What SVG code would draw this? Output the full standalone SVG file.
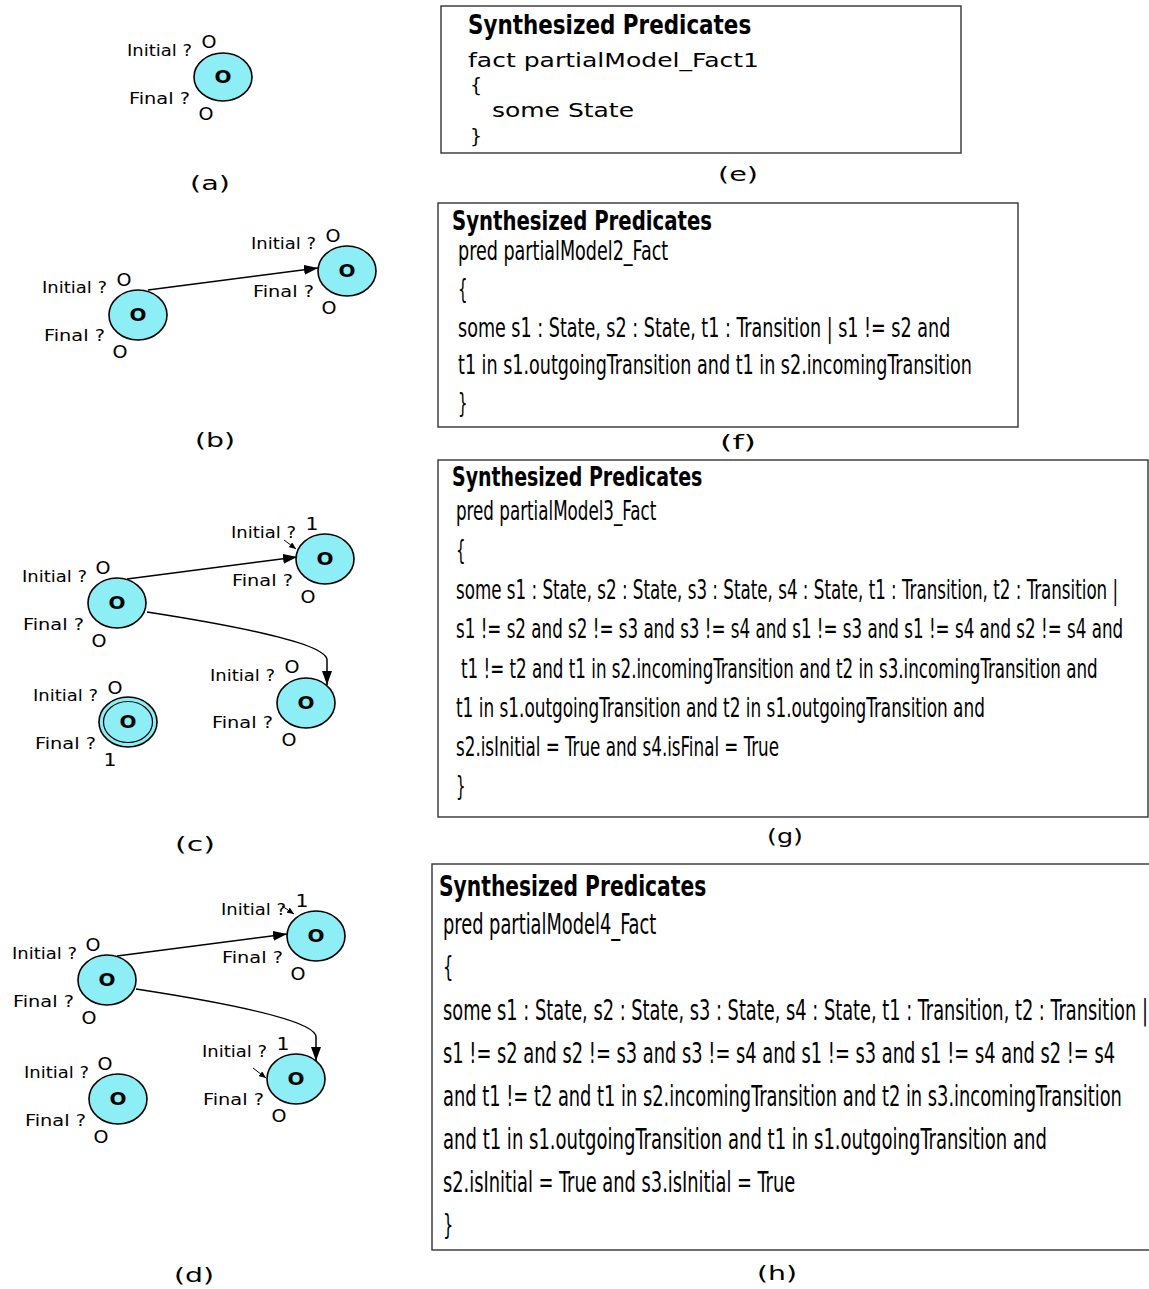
<svg xmlns="http://www.w3.org/2000/svg" width="1149" height="1289" viewBox="0 0 1149 1289">
<style>
.st{fill:#8eeef5;stroke:#000;stroke-width:1.6}
.lb{font-family:"DejaVu Sans",sans-serif;font-size:16px;fill:#000}
.o{font-family:"DejaVu Sans",sans-serif;font-size:17px;fill:#000;text-anchor:middle}
.in{font-family:"DejaVu Sans",sans-serif;font-size:17px;font-weight:bold;fill:#000;text-anchor:middle}
.cap{font-family:"DejaVu Sans",sans-serif;font-size:20px;fill:#000;text-anchor:middle}
.box{fill:#fff;stroke:#333;stroke-width:1.4}
.ttl{font-family:"DejaVu Sans Condensed","DejaVu Sans",sans-serif;font-weight:bold;fill:#000}
.code{font-family:"DejaVu Sans Condensed","DejaVu Sans",sans-serif;fill:#000}
.e{font-family:"DejaVu Sans",sans-serif;font-size:19px;fill:#000}
.ed{fill:none;stroke:#000;stroke-width:1.5}
.sm{fill:none;stroke:#000;stroke-width:1}
</style>
<defs>
<marker id="ah" markerWidth="14" markerHeight="10" refX="14" refY="5" orient="auto" markerUnits="userSpaceOnUse"><path d="M0,0 L14,5 L0,10 Z" fill="#000"/></marker>
<marker id="as" markerWidth="7" markerHeight="6" refX="7" refY="3" orient="auto" markerUnits="userSpaceOnUse"><path d="M0,0 L7,3 L0,6 Z" fill="#000"/></marker>
</defs>
<rect width="1149" height="1289" fill="#fff"/>

<g id="connectors">
<line class="ed" x1="148" y1="290" x2="318" y2="268" marker-end="url(#ah)"/>
<line class="ed" x1="127" y1="579" x2="297" y2="557" marker-end="url(#ah)"/>
<path class="ed" d="M147,612 C250,628 327,645 327,660 L327,685" marker-end="url(#ah)"/>
<line class="sm" x1="284" y1="540" x2="296" y2="549" marker-end="url(#as)"/>
<line class="ed" x1="117" y1="956" x2="287" y2="934" marker-end="url(#ah)"/>
<path class="ed" d="M136,989 C240,1005 316,1022 316,1037 L316,1061" marker-end="url(#ah)"/>
<line class="sm" x1="282" y1="906" x2="294" y2="914" marker-end="url(#as)"/>
<line class="sm" x1="253" y1="1068" x2="266" y2="1078" marker-end="url(#as)"/>
</g>

<!-- (a) -->
<g id="a-state">
<ellipse class="st" cx="223" cy="77" rx="29" ry="24"/>
<text class="in" x="223" y="83" textLength="17" lengthAdjust="spacingAndGlyphs">O</text>
<text class="lb" x="127" y="56" textLength="65" lengthAdjust="spacingAndGlyphs">Initial ?</text>
<text class="o" x="209" y="48" textLength="15" lengthAdjust="spacingAndGlyphs">O</text>
<text class="lb" x="129" y="104" textLength="61" lengthAdjust="spacingAndGlyphs">Final ?</text>
<text class="o" x="206" y="120" textLength="15" lengthAdjust="spacingAndGlyphs">O</text>
</g>
<text class="cap" x="210" y="190" textLength="40" lengthAdjust="spacingAndGlyphs">(a)</text>

<!-- (b) -->
<g id="b-s1">
<ellipse class="st" cx="138" cy="315" rx="29" ry="25"/>
<text class="in" x="138" y="321" textLength="17" lengthAdjust="spacingAndGlyphs">O</text>
<text class="lb" x="42" y="293" textLength="65" lengthAdjust="spacingAndGlyphs">Initial ?</text>
<text class="o" x="124" y="286" textLength="15" lengthAdjust="spacingAndGlyphs">O</text>
<text class="lb" x="44" y="341" textLength="61" lengthAdjust="spacingAndGlyphs">Final ?</text>
<text class="o" x="120" y="358" textLength="15" lengthAdjust="spacingAndGlyphs">O</text>
</g>
<g id="b-s2">
<ellipse class="st" cx="347" cy="271" rx="29" ry="25"/>
<text class="in" x="347" y="277" textLength="17" lengthAdjust="spacingAndGlyphs">O</text>
<text class="lb" x="251" y="249" textLength="65" lengthAdjust="spacingAndGlyphs">Initial ?</text>
<text class="o" x="333" y="242" textLength="15" lengthAdjust="spacingAndGlyphs">O</text>
<text class="lb" x="253" y="297" textLength="61" lengthAdjust="spacingAndGlyphs">Final ?</text>
<text class="o" x="329" y="314" textLength="15" lengthAdjust="spacingAndGlyphs">O</text>
</g>
<text class="cap" x="215" y="447" textLength="40" lengthAdjust="spacingAndGlyphs">(b)</text>

<!-- (c) -->
<g id="c-s1">
<ellipse class="st" cx="117" cy="603" rx="29" ry="25"/>
<text class="in" x="117" y="609" textLength="17" lengthAdjust="spacingAndGlyphs">O</text>
<text class="lb" x="22" y="582" textLength="65" lengthAdjust="spacingAndGlyphs">Initial ?</text>
<text class="o" x="103" y="574" textLength="15" lengthAdjust="spacingAndGlyphs">O</text>
<text class="lb" x="23" y="630" textLength="61" lengthAdjust="spacingAndGlyphs">Final ?</text>
<text class="o" x="99" y="647" textLength="15" lengthAdjust="spacingAndGlyphs">O</text>
</g>
<g id="c-s2">
<ellipse class="st" cx="325" cy="559" rx="29" ry="25"/>
<text class="in" x="325" y="565" textLength="17" lengthAdjust="spacingAndGlyphs">O</text>
<text class="lb" x="231" y="538" textLength="65" lengthAdjust="spacingAndGlyphs">Initial ?</text>
<text class="o" x="312" y="530" textLength="13" lengthAdjust="spacingAndGlyphs">1</text>
<text class="lb" x="232" y="586" textLength="61" lengthAdjust="spacingAndGlyphs">Final ?</text>
<text class="o" x="308" y="603" textLength="15" lengthAdjust="spacingAndGlyphs">O</text>
</g>
<g id="c-s3">
<ellipse class="st" cx="306" cy="703" rx="29" ry="25"/>
<text class="in" x="306" y="709" textLength="17" lengthAdjust="spacingAndGlyphs">O</text>
<text class="lb" x="210" y="681" textLength="65" lengthAdjust="spacingAndGlyphs">Initial ?</text>
<text class="o" x="292" y="673" textLength="15" lengthAdjust="spacingAndGlyphs">O</text>
<text class="lb" x="212" y="728" textLength="61" lengthAdjust="spacingAndGlyphs">Final ?</text>
<text class="o" x="289" y="746" textLength="15" lengthAdjust="spacingAndGlyphs">O</text>
</g>
<g id="c-s4">
<ellipse class="st" cx="128" cy="722" rx="29" ry="25"/>
<ellipse cx="128" cy="722" rx="24.5" ry="20.5" fill="none" stroke="#000" stroke-width="1.2"/>
<text class="in" x="128" y="728" textLength="17" lengthAdjust="spacingAndGlyphs">O</text>
<text class="lb" x="33" y="701" textLength="65" lengthAdjust="spacingAndGlyphs">Initial ?</text>
<text class="o" x="115" y="694" textLength="15" lengthAdjust="spacingAndGlyphs">O</text>
<text class="lb" x="35" y="749" textLength="61" lengthAdjust="spacingAndGlyphs">Final ?</text>
<text class="o" x="110" y="766" textLength="13" lengthAdjust="spacingAndGlyphs">1</text>
</g>
<text class="cap" x="195" y="851" textLength="40" lengthAdjust="spacingAndGlyphs">(c)</text>

<!-- (d) -->
<g id="d-s1">
<ellipse class="st" cx="107" cy="980" rx="29" ry="25"/>
<text class="in" x="107" y="986" textLength="17" lengthAdjust="spacingAndGlyphs">O</text>
<text class="lb" x="12" y="959" textLength="65" lengthAdjust="spacingAndGlyphs">Initial ?</text>
<text class="o" x="93" y="951" textLength="15" lengthAdjust="spacingAndGlyphs">O</text>
<text class="lb" x="13" y="1007" textLength="61" lengthAdjust="spacingAndGlyphs">Final ?</text>
<text class="o" x="89" y="1024" textLength="15" lengthAdjust="spacingAndGlyphs">O</text>
</g>
<g id="d-s2">
<ellipse class="st" cx="316" cy="936" rx="29" ry="25"/>
<text class="in" x="316" y="942" textLength="17" lengthAdjust="spacingAndGlyphs">O</text>
<text class="lb" x="221" y="915" textLength="65" lengthAdjust="spacingAndGlyphs">Initial ?</text>
<text class="o" x="302" y="907" textLength="13" lengthAdjust="spacingAndGlyphs">1</text>
<text class="lb" x="222" y="963" textLength="61" lengthAdjust="spacingAndGlyphs">Final ?</text>
<text class="o" x="298" y="980" textLength="15" lengthAdjust="spacingAndGlyphs">O</text>
</g>
<g id="d-s3">
<ellipse class="st" cx="296" cy="1079" rx="29" ry="25"/>
<text class="in" x="296" y="1085" textLength="17" lengthAdjust="spacingAndGlyphs">O</text>
<text class="lb" x="202" y="1057" textLength="65" lengthAdjust="spacingAndGlyphs">Initial ?</text>
<text class="o" x="283" y="1050" textLength="13" lengthAdjust="spacingAndGlyphs">1</text>
<text class="lb" x="203" y="1105" textLength="61" lengthAdjust="spacingAndGlyphs">Final ?</text>
<text class="o" x="279" y="1122" textLength="15" lengthAdjust="spacingAndGlyphs">O</text>
</g>
<g id="d-s4">
<ellipse class="st" cx="118" cy="1099" rx="29" ry="25"/>
<text class="in" x="118" y="1105" textLength="17" lengthAdjust="spacingAndGlyphs">O</text>
<text class="lb" x="24" y="1078" textLength="65" lengthAdjust="spacingAndGlyphs">Initial ?</text>
<text class="o" x="105" y="1070" textLength="15" lengthAdjust="spacingAndGlyphs">O</text>
<text class="lb" x="25" y="1126" textLength="61" lengthAdjust="spacingAndGlyphs">Final ?</text>
<text class="o" x="101" y="1143" textLength="15" lengthAdjust="spacingAndGlyphs">O</text>
</g>
<text class="cap" x="194" y="1282" textLength="40" lengthAdjust="spacingAndGlyphs">(d)</text>

<!-- (e) -->
<g id="box-e">
<rect class="box" x="441" y="6" width="520" height="147"/>
<text class="ttl" transform="translate(468,34) scale(0.8,1)" font-size="26" textLength="354" lengthAdjust="spacingAndGlyphs">Synthesized Predicates</text>
<text class="e" x="468" y="67" textLength="291" lengthAdjust="spacingAndGlyphs">fact partialModel_Fact1</text>
<text class="e" x="470" y="92">{</text>
<text class="e" x="492" y="117" textLength="142" lengthAdjust="spacingAndGlyphs">some State</text>
<text class="e" x="470" y="143">}</text>
</g>
<text class="cap" x="738" y="181" textLength="40" lengthAdjust="spacingAndGlyphs">(e)</text>

<!-- (f) -->
<g id="box-f">
<rect class="box" x="438" y="203" width="580" height="224"/>
<text class="ttl" transform="translate(452,230) scale(0.8,1)" font-size="26" textLength="325" lengthAdjust="spacingAndGlyphs">Synthesized Predicates</text>
<text class="code" transform="translate(458,260) scale(0.62,1)" font-size="27" textLength="339" lengthAdjust="spacingAndGlyphs">pred partialModel2_Fact</text>
<text class="code" transform="translate(458,298) scale(0.62,1)" font-size="27">{</text>
<text class="code" transform="translate(458,337) scale(0.62,1)" font-size="27" textLength="794" lengthAdjust="spacingAndGlyphs">some s1 : State, s2 : State, t1 : Transition | s1 != s2 and</text>
<text class="code" transform="translate(458,374) scale(0.62,1)" font-size="27" textLength="829" lengthAdjust="spacingAndGlyphs">t1 in s1.outgoingTransition and t1 in s2.incomingTransition</text>
<text class="code" transform="translate(458,412) scale(0.62,1)" font-size="27">}</text>
</g>
<text class="cap" x="738" y="449" textLength="36" lengthAdjust="spacingAndGlyphs">(f)</text>

<!-- (g) -->
<g id="box-g">
<rect class="box" x="438" y="460" width="710" height="357"/>
<text class="ttl" transform="translate(452,486) scale(0.8,1)" font-size="26" textLength="313" lengthAdjust="spacingAndGlyphs">Synthesized Predicates</text>
<text class="code" transform="translate(456,520) scale(0.62,1)" font-size="27" textLength="323" lengthAdjust="spacingAndGlyphs">pred partialModel3_Fact</text>
<text class="code" transform="translate(456,559) scale(0.62,1)" font-size="27">{</text>
<text class="code" transform="translate(456,599) scale(0.62,1)" font-size="27" textLength="1068" lengthAdjust="spacingAndGlyphs">some s1 : State, s2 : State, s3 : State, s4 : State, t1 : Transition, t2 : Transition |</text>
<text class="code" transform="translate(456,638) scale(0.62,1)" font-size="27" textLength="1076" lengthAdjust="spacingAndGlyphs">s1 != s2 and s2 != s3 and s3 != s4 and s1 != s3 and s1 != s4 and s2 != s4 and</text>
<text class="code" transform="translate(461,678) scale(0.62,1)" font-size="27" textLength="1027" lengthAdjust="spacingAndGlyphs">t1 != t2 and t1 in s2.incomingTransition and t2 in s3.incomingTransition and</text>
<text class="code" transform="translate(456,717) scale(0.62,1)" font-size="27" textLength="853" lengthAdjust="spacingAndGlyphs">t1 in s1.outgoingTransition  and t2 in s1.outgoingTransition and</text>
<text class="code" transform="translate(456,756) scale(0.62,1)" font-size="27" textLength="521" lengthAdjust="spacingAndGlyphs">s2.isInitial = True and s4.isFinal = True</text>
<text class="code" transform="translate(456,795) scale(0.62,1)" font-size="27">}</text>
</g>
<text class="cap" x="785" y="843" textLength="36" lengthAdjust="spacingAndGlyphs">(g)</text>

<!-- (h) -->
<g id="box-h">
<rect class="box" x="432" y="864" width="718" height="386"/>
<text class="ttl" transform="translate(439,896) scale(0.8,1)" font-size="28" textLength="334" lengthAdjust="spacingAndGlyphs">Synthesized Predicates</text>
<text class="code" transform="translate(443,934) scale(0.62,1)" font-size="29" textLength="344" lengthAdjust="spacingAndGlyphs">pred partialModel4_Fact</text>
<text class="code" transform="translate(443,977) scale(0.62,1)" font-size="29">{</text>
<text class="code" transform="translate(443,1020) scale(0.62,1)" font-size="29" textLength="1137" lengthAdjust="spacingAndGlyphs">some s1 : State, s2 : State, s3 : State, s4 : State, t1 : Transition, t2 : Transition |</text>
<text class="code" transform="translate(443,1063) scale(0.62,1)" font-size="29" textLength="1084" lengthAdjust="spacingAndGlyphs">s1 != s2 and s2 != s3 and s3 != s4 and s1 != s3 and s1 != s4 and s2 != s4</text>
<text class="code" transform="translate(443,1106) scale(0.62,1)" font-size="29" textLength="1095" lengthAdjust="spacingAndGlyphs">and t1 != t2 and t1 in s2.incomingTransition and t2 in s3.incomingTransition</text>
<text class="code" transform="translate(443,1149) scale(0.62,1)" font-size="29" textLength="974" lengthAdjust="spacingAndGlyphs">and t1 in s1.outgoingTransition  and t1 in s1.outgoingTransition and</text>
<text class="code" transform="translate(443,1192) scale(0.62,1)" font-size="29" textLength="568" lengthAdjust="spacingAndGlyphs">s2.isInitial = True and s3.isInitial = True</text>
<text class="code" transform="translate(443,1235) scale(0.62,1)" font-size="29">}</text>
</g>
<text class="cap" x="777" y="1280" textLength="40" lengthAdjust="spacingAndGlyphs">(h)</text>
</svg>
